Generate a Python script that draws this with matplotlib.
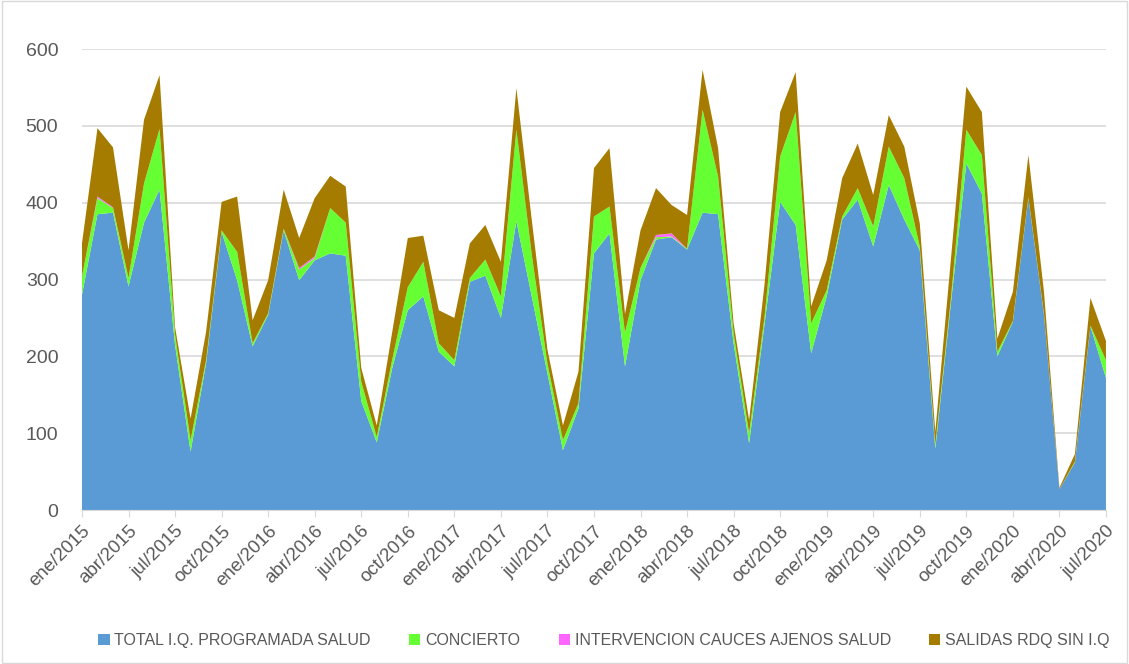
import matplotlib
matplotlib.use("Agg")
import matplotlib.pyplot as plt
import numpy as np
from matplotlib.patches import Rectangle

plt.rcParams["font.family"] = ["Liberation Sans", "DejaVu Sans"]

# monthly series, ene/2015 .. jul/2020
programada = [280, 385, 387, 291, 374, 417, 215, 76, 191, 362, 299, 213,
              254, 364, 299, 325, 334, 331, 142, 88, 185, 260, 278, 206,
              187, 297, 305, 250, 376, 277, 178, 78, 132, 334, 360, 187,
              299, 352, 355, 339, 387, 385, 217, 87, 243, 401, 371, 204,
              278, 378, 404, 343, 423, 378, 338, 80, 268, 451, 412, 200,
              245, 406, 255, 27, 62, 239, 172]
concierto = [24, 21, 6, 11, 51, 79, 13, 15, 4, 2, 37, 4,
             2, 2, 14, 3, 59, 43, 25, 7, 11, 30, 45, 11,
             8, 5, 21, 28, 119, 54, 13, 13, 7, 48, 35, 44,
             16, 3, 1, 1, 134, 49, 13, 13, 9, 59, 147, 39,
             8, 4, 15, 26, 50, 54, 5, 5, 6, 44, 50, 6,
             1, 1, 1, 0, 1, 1, 23]
cauces = [0, 2, 1, 0, 0, 0, 0, 0, 0, 0, 0, 0,
          0, 0, 2, 2, 0, 0, 0, 0, 0, 0, 0, 0,
          0, 0, 0, 0, 0, 0, 0, 0, 0, 0, 0, 0,
          0, 3, 4, 0, 0, 0, 0, 0, 0, 0, 0, 0,
          0, 0, 0, 0, 0, 0, 0, 0, 0, 0, 0, 0,
          0, 0, 0, 0, 0, 0, 0]
salidas = [43, 89, 78, 36, 83, 70, 10, 28, 37, 37, 72, 30,
           43, 51, 39, 76, 42, 47, 18, 15, 36, 64, 34, 43,
           55, 45, 45, 45, 54, 45, 18, 19, 41, 63, 76, 24,
           49, 61, 37, 44, 52, 37, 13, 17, 43, 58, 52, 22,
           39, 50, 58, 41, 41, 41, 30, 17, 51, 56, 56, 17,
           38, 55, 29, 2, 10, 36, 25]

series_names = ["TOTAL I.Q. PROGRAMADA SALUD", "CONCIERTO",
                "INTERVENCION CAUCES AJENOS SALUD", "SALIDAS RDQ SIN I.Q"]
colors = ["#5B9BD5", "#66FF33", "#FF66FF", "#A67C00"]

years = [2015, 2016, 2017, 2018, 2019, 2020]
quarter_months = ["ene", "abr", "jul", "oct"]
tick_labels = [f"{m}/{y}" for y in years for m in quarter_months][:23]

if __name__ == "__main__":
    x = np.arange(len(programada))
    fig = plt.figure(figsize=(11.29, 6.64), dpi=100)
    ax = fig.add_axes([0.0726, 0.2319, 0.907, 0.6943])

    ax.stackplot(x, programada, concierto, cauces, salidas,
                 colors=colors, labels=series_names, linewidth=0)

    ax.set_xlim(0, len(x) - 1)
    ax.set_ylim(0, 600)
    ax.set_yticks(np.arange(0, 601, 100))
    ax.yaxis.grid(True, color="#D9D9D9", lw=1.2)
    ax.set_axisbelow(True)
    ax.tick_params(axis="y", length=0, labelsize=14, labelcolor="#595959", pad=17)

    ax.set_xticks(np.arange(0, len(x), 3))
    ax.set_xticklabels(tick_labels, rotation=45, ha="right", rotation_mode="anchor")
    ax.tick_params(axis="x", length=5, color="#D9D9D9", labelsize=13.5,
                   labelcolor="#595959", pad=4)

    for s in ["top", "right", "left"]:
        ax.spines[s].set_visible(False)
    ax.spines["bottom"].set_color("#D9D9D9")

    fig.legend(loc="center", bbox_to_anchor=(0.535, 0.035), ncol=4, frameon=False,
               handlelength=0.7, handleheight=0.7, handletextpad=0.3,
               columnspacing=2.4, fontsize=11.5, labelcolor="#595959")

    fig.patches.append(Rectangle((0.002, 0.002), 0.996, 0.996, transform=fig.transFigure,
                                 fill=False, edgecolor="#D9D9D9", lw=1))

    fig.savefig("out.png", dpi=100)
